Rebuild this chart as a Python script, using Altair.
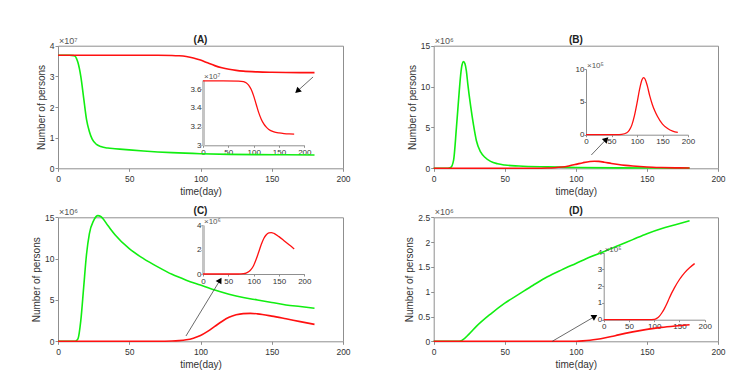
import altair as alt
import pandas as pd

# ---------------- data ----------------
# Panel A  (units: 1e7 persons)
A_green_t = [0, 8, 11, 12, 13, 14, 16, 18, 20, 22, 24, 27, 30, 35, 40, 50, 60, 80, 100, 120, 140, 160, 180]
A_green = [3.69, 3.688, 3.675, 3.66, 3.58, 3.45, 3.0, 2.3, 1.6, 1.2, 0.95, 0.78, 0.71, 0.66, 0.64, 0.60, 0.565, 0.51, 0.475, 0.455, 0.445, 0.44, 0.435]
A_red_t = [0, 40, 70, 80, 85, 90, 95, 100, 105, 110, 115, 120, 125, 130, 140, 150, 160, 170, 180]
A_red = [3.69, 3.69, 3.688, 3.682, 3.67, 3.645, 3.60, 3.53, 3.44, 3.35, 3.28, 3.23, 3.195, 3.17, 3.145, 3.133, 3.126, 3.122, 3.12]

# Panel B  (green: 1e6, red: 1e5)
B_green_t = [0, 10, 12, 14, 16, 18, 19, 20, 21, 22, 23, 24, 26, 28, 30, 33, 36, 40, 45, 50, 60, 80, 100, 130, 180]
B_green = [0, 0, 0.1, 1.0, 5.0, 9.5, 11.5, 12.7, 13.05, 12.8, 11.9, 10.3, 7.6, 5.3, 3.4, 2.0, 1.35, 0.85, 0.55, 0.4, 0.28, 0.17, 0.1, 0.05, 0.02]
B_red_t = [0, 60, 70, 80, 85, 90, 95, 100, 105, 110, 113, 116, 120, 125, 130, 135, 140, 150, 160, 170, 180]
B_red_e5 = [0, 0, 0.05, 0.3, 0.7, 1.5, 2.9, 4.8, 6.9, 8.4, 8.7, 8.45, 7.5, 5.9, 4.6, 3.6, 2.8, 1.6, 0.95, 0.55, 0.35]

# Panel C  (units: 1e6)
C_green_t = [0, 12, 14, 16, 18, 20, 22, 25, 28, 30, 35, 40, 50, 60, 70, 80, 90, 100, 110, 120, 130, 140, 150, 160, 170, 180]
C_green = [0, 0, 0.3, 2.5, 6.5, 10.5, 13.0, 14.6, 15.2, 15.1, 14.0, 12.9, 11.2, 10.0, 9.0, 8.1, 7.4, 6.8, 6.2, 5.7, 5.3, 5.0, 4.7, 4.4, 4.2, 4.0]
C_red_t = [0, 70, 80, 85, 90, 95, 100, 105, 110, 115, 120, 125, 130, 135, 140, 150, 160, 170, 180]
C_red = [0, 0, 0.03, 0.08, 0.18, 0.38, 0.7, 1.2, 1.8, 2.4, 2.9, 3.2, 3.35, 3.38, 3.32, 3.05, 2.72, 2.38, 2.05]

# Panel D  (green: 1e6, red: 1e5)
D_green_t = [0, 18, 20, 25, 30, 40, 50, 60, 70, 80, 90, 100, 110, 120, 130, 140, 150, 160, 170, 180]
D_green = [0, 0, 0.02, 0.15, 0.3, 0.55, 0.77, 0.95, 1.13, 1.3, 1.44, 1.57, 1.7, 1.81, 1.93, 2.05, 2.17, 2.27, 2.35, 2.43]
D_red_t = [0, 90, 100, 105, 110, 115, 120, 125, 130, 140, 150, 160, 170, 180]
D_red_e5 = [0, 0, 0.02, 0.08, 0.2, 0.4, 0.65, 0.95, 1.3, 1.9, 2.4, 2.8, 3.1, 3.35]

x_ticks = [0, 50, 100, 150, 200]
panel_labels = ["(A)", "(B)", "(C)", "(D)"]
main_exp = ["×10⁷", "×10⁶", "×10⁶", "×10⁶"]
inset_exp = ["×10⁷", "×10⁵", "×10⁶", "×10⁵"]
main_ydom = [[0, 4], [0, 15], [0, 15], [0, 2.5]]
main_yticks = [[0, 1, 2, 3, 4], [0, 5, 10, 15], [0, 5, 10, 15], [0, 0.5, 1, 1.5, 2, 2.5]]
inset_ydom = [[3, 3.7], [0, 10], [0, 4], [0, 4]]
inset_yticks = [[3, 3.2, 3.4, 3.6], [0, 5, 10], [0, 2, 4], [0, 1, 2, 3, 4]]
# arrows (main-panel data coords): start -> end, head angle
arrows = [((179, 2.98), (168, 2.52), 228),
          ((110.9, 1.63), (121.4, 3.55), 44),
          ((89.8, 0.64), (113.7, 7.4), 31),
          ((83.4, 0.0), (113.3, 0.50), 60)]

# ---------------- layout ----------------
W, H = 740, 362
FONT = "Liberation Sans"
AXC = "#8f8f8f"
LBL = "#333333"
GREEN = "#11ee11"
RED = "#ff1010"

main_geo = [(50, 335, 37.7, 160.3), (425.7, 710, 37.7, 160.3),
            (50, 335, 209.3, 333.3), (425.7, 710, 209.3, 333.3)]
inset_geo = [(195, 296.3, 72, 137.3), (578, 680, 61, 126.7),
             (195, 296.3, 217, 266), (595.7, 696.7, 244.7, 311.7)]
inset_thick = [True, False, True, False]

series = [
    (A_green_t, A_green, A_red_t, A_red, A_red),
    (B_green_t, B_green, B_red_t, [v / 10 for v in B_red_e5], B_red_e5),
    (C_green_t, C_green, C_red_t, C_red, C_red),
    (D_green_t, D_green, D_red_t, [v / 10 for v in D_red_e5], D_red_e5),
]


def sc(domain, rng):
    return alt.Scale(domain=domain, range=rng, nice=False, zero=False)


layers = []
for i in range(4):
    xl, xr, yt, yb = main_geo[i]
    ixl, ixr, iyt, iyb = inset_geo[i]
    gt, gv, rt, rv_main, rv_inset = series[i]
    xs = lambda: sc([0, 200], [xl, xr])
    ys = lambda: sc(main_ydom[i], [yb, yt])
    ixs = lambda: sc([0, 200], [ixl, ixr])
    iys = lambda: sc(inset_ydom[i], [iyb, iyt])

    gdf = pd.DataFrame({"t": gt, "v": gv})
    rdf = pd.DataFrame({"t": rt, "v": rv_main})
    idf = pd.DataFrame({"t": rt, "v": rv_inset})

    xaxis = alt.Axis(orient="bottom", offset=yb - H, values=x_ticks, title="time(day)",
                     grid=False, tickSize=3, labelPadding=3, titlePadding=4,
                     domainColor=AXC, tickColor=AXC, labelColor=LBL, titleColor=LBL,
                     labelFontSize=8.5, titleFontSize=10, titleFontWeight="normal",
                     labelFont=FONT, titleFont=FONT, labelFlush=False)
    yaxis = alt.Axis(orient="left", offset=-xl, values=main_yticks[i], title="Number of persons",
                     format=".4~g", grid=False, tickSize=3, labelPadding=1, titlePadding=3,
                     domainColor=AXC, tickColor=AXC, labelColor=LBL, titleColor=LBL,
                     labelFontSize=8.5, titleFontSize=10, titleFontWeight="normal",
                     labelFont=FONT, titleFont=FONT, labelFlush=False)
    layers.append(alt.Chart(gdf).mark_line(color=GREEN, strokeWidth=1.6, interpolate="monotone").encode(
        x=alt.X("t:Q", scale=xs(), axis=xaxis),
        y=alt.Y("v:Q", scale=ys(), axis=yaxis)))
    # box: top and right axes
    layers.append(alt.Chart(gdf).mark_line(strokeOpacity=0).encode(
        x=alt.X("t:Q", scale=xs(), axis=alt.Axis(orient="top", offset=-yt, labels=False, ticks=False,
                                               title=None, grid=False, domainColor=AXC)),
        y=alt.Y("v:Q", scale=ys(), axis=alt.Axis(orient="right", offset=xr - W, labels=False, ticks=False,
                                               title=None, grid=False, domainColor=AXC))))
    layers.append(alt.Chart(rdf).mark_line(color=RED, strokeWidth=1.6, interpolate="monotone").encode(
        x=alt.X("t:Q", scale=xs(), axis=None),
        y=alt.Y("v:Q", scale=ys(), axis=None)))

    # title and main exponent
    tdf = pd.DataFrame({"t": [100], "v": [main_ydom[i][1]], "s": [panel_labels[i]]})
    layers.append(alt.Chart(tdf).mark_text(baseline="bottom", dy=-1, fontSize=10, fontWeight="bold",
                                           font=FONT, color="#222222").encode(
        x=alt.X("t:Q", scale=xs(), axis=None), y=alt.Y("v:Q", scale=ys(), axis=None), text="s:N"))
    edf = pd.DataFrame({"t": [0], "v": [main_ydom[i][1]], "s": [main_exp[i]]})
    layers.append(alt.Chart(edf).mark_text(align="left", baseline="bottom", dx=1, dy=0, fontSize=9,
                                           font=FONT, color="#555555").encode(
        x=alt.X("t:Q", scale=xs(), axis=None), y=alt.Y("v:Q", scale=ys(), axis=None), text="s:N"))

    # arrow
    (sx, sy), (ex, ey), ang = arrows[i]
    adf = pd.DataFrame({"t": [sx], "v": [sy], "t2": [ex], "v2": [ey]})
    layers.append(alt.Chart(adf).mark_rule(color="#444444", strokeWidth=0.8).encode(
        x=alt.X("t:Q", scale=xs(), axis=None), y=alt.Y("v:Q", scale=ys(), axis=None),
        x2="t2:Q", y2="v2:Q"))
    hdf = pd.DataFrame({"t": [ex], "v": [ey]})
    layers.append(alt.Chart(hdf).mark_point(shape="triangle-up", filled=True, color="black", size=45,
                                            opacity=1, angle=ang).encode(
        x=alt.X("t:Q", scale=xs(), axis=None), y=alt.Y("v:Q", scale=ys(), axis=None)))

    # inset
    ixaxis = alt.Axis(orient="bottom", offset=iyb - H, values=x_ticks, title=None, grid=False,
                      tickSize=2, labelPadding=1, domainColor=AXC, tickColor=AXC, labelColor=LBL,
                      labelFontSize=8, labelFont=FONT, labelFlush=False)
    iyaxis = alt.Axis(orient="left", offset=-ixl, values=inset_yticks[i], title=None, grid=False,
                      format=".4~g", tickSize=2, labelPadding=0,
                      domainColor="#c4c4c4" if inset_thick[i] else AXC,
                      domainWidth=3 if inset_thick[i] else 1,
                      tickColor=AXC, labelColor=LBL, labelFontSize=8, labelFont=FONT, labelFlush=False)
    layers.append(alt.Chart(idf).mark_line(color=RED, strokeWidth=1.3, interpolate="monotone").encode(
        x=alt.X("t:Q", scale=ixs(), axis=ixaxis),
        y=alt.Y("v:Q", scale=iys(), axis=iyaxis)))
    iedf = pd.DataFrame({"t": [0], "v": [inset_ydom[i][1]], "s": [inset_exp[i]]})
    layers.append(alt.Chart(iedf).mark_text(align="left", baseline="bottom", dx=1, dy=1, fontSize=8,
                                            font=FONT, color="#555555").encode(
        x=alt.X("t:Q", scale=ixs(), axis=None), y=alt.Y("v:Q", scale=iys(), axis=None), text="s:N"))

chart = alt.layer(*layers).resolve_scale(x="independent", y="independent").properties(
    width=W, height=H, autosize=alt.AutoSizeParams(type="none"), padding=0
).configure_view(stroke=None)

chart.save("out.html", embed_options={"renderer": "svg", "actions": False})
